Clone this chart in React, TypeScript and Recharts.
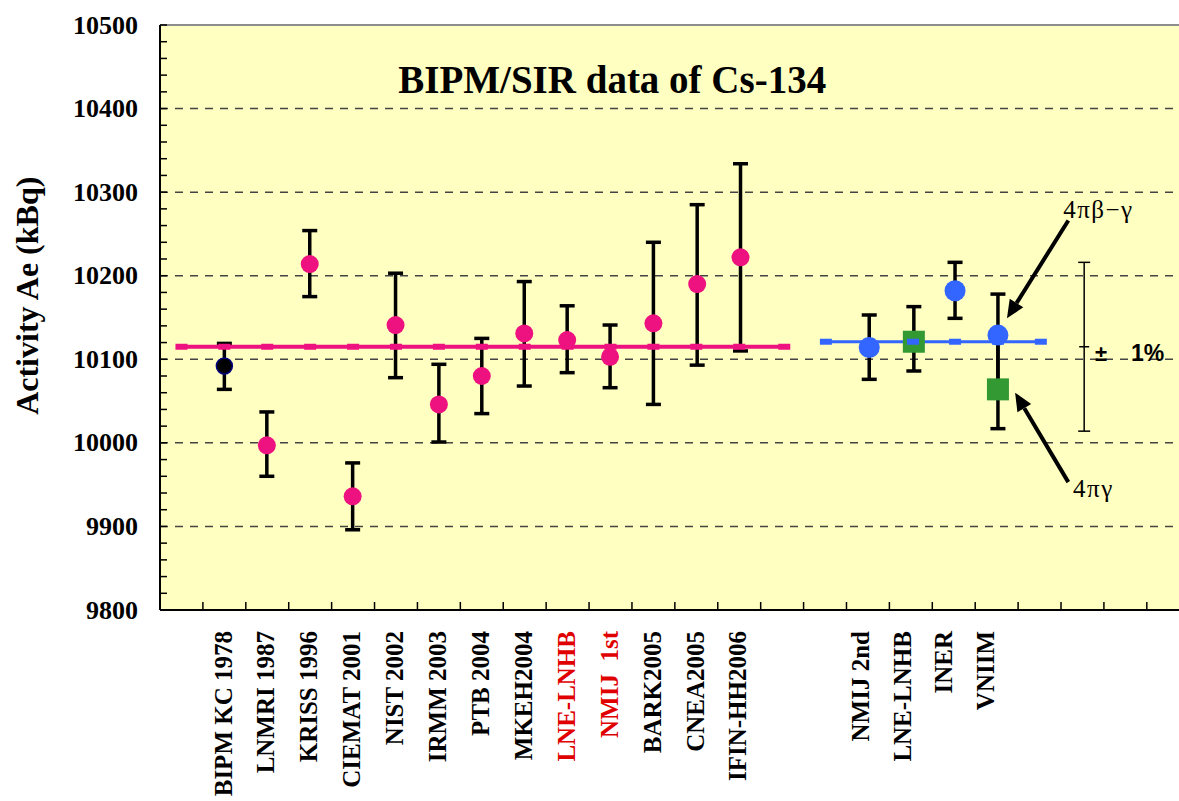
import React from 'react';
import { ComposedChart, Scatter, Line, XAxis, YAxis, CartesianGrid, ErrorBar, ReferenceLine, ReferenceDot } from 'recharts';

// category labels under the axis and where they sit (x units = one tick interval)
const xLabelNames = [
  'BIPM KC 1978', 'LNMRI 1987', 'KRISS 1996', 'CIEMAT 2001', 'NIST 2002', 'IRMM 2003', 'PTB 2004',
  'MKEH2004', 'LNE-LNHB', 'NMIJ  1st', 'BARK2005', 'CNEA2005', 'IFIN-HH2006',
  'NMIJ 2nd', 'LNE-LNHB', 'INER', 'VNIIM',
];
const xLabelPos = [1.47, 2.47, 3.47, 4.47, 5.47, 6.47, 7.47, 8.47, 9.47, 10.47, 11.47, 12.47, 13.47, 16.33, 17.3, 18.27, 19.25];
const redLabelIdx = [8, 9];
const xTickMarks = [0, 1, 2, 3, 4, 5, 6, 7, 8, 9, 10, 11, 12, 13, 14, 15, 16, 17, 18, 19, 20, 21, 22, 23];

const yGrid = [9900, 10000, 10100, 10200, 10300, 10400];

// BIPM reference (1978)
const refX = [1.5];
const refVal = [10092];
const refHi = [10119];
const refLo = [10064];

// earlier SIR submissions
const sirX = [2.49, 3.49, 4.49, 5.49, 6.5, 7.5, 8.49, 9.49, 10.49, 11.5, 12.52, 13.53];
const sirVal = [9997, 10214, 9936, 10141, 10046, 10080, 10131, 10123, 10103, 10143, 10190, 10222];
const sirHi = [10037, 10254, 9976, 10203, 10094, 10125, 10193, 10164, 10141, 10240, 10285, 10334];
const sirLo = [9960, 10175, 9896, 10078, 10001, 10035, 10068, 10084, 10066, 10046, 10093, 10110];

// new results, 4πβ-γ (circles)
const bgX = [16.53, 18.53, 19.53];
const bgVal = [10114, 10182, 10129];
const bgHi = [10153, 10216, 10178];
const bgLo = [10076, 10149, 10070];

// new results, 4πγ (squares)
const gX = [17.57, 19.53];
const gVal = [10121, 10064];
const gHi = [10163, 10125];
const gLo = [10086, 10017];

// mean lines
const meanOld = 10115;
const meanOldX = [0.5, 1.5, 2.5, 3.5, 4.5, 5.5, 6.5, 7.5, 8.5, 9.5, 10.5, 11.5, 12.5, 13.5, 14.55];
const meanNew = 10121;
const meanNewX = [15.52, 16.53, 17.55, 18.53, 19.53, 20.53];

const pctX = 21.54;
const pctMid = 10115;
const pctHalf = 101;

const PINK = '#EE1280';
const BLUE = '#3366FF';
const GREEN = '#339933';
const SERIF = "'Liberation Serif', 'Times New Roman', serif";
const SANS = "'Liberation Sans', Arial, sans-serif";

const pts = (xs: number[], vs: number[], hi: number[], lo: number[]) =>
  xs.map((x, i) => ({ x, y: vs[i], err: [vs[i] - lo[i], hi[i] - vs[i]] }));

const yTicks = Array.from({ length: 36 }, (_, i) => 9800 + i * 20);

const XTick = (props: any) => {
  const { x, y, payload } = props;
  const i = xLabelPos.indexOf(payload.value);
  if (i < 0) return <line x1={x} y1={y} x2={x} y2={y - 8} stroke="#000" strokeWidth={1.5} />;
  const ty = y + 21;
  return (
    <text x={x} y={ty} transform={`rotate(-90 ${x} ${ty})`} textAnchor="end" dominantBaseline="central"
      fontFamily={SERIF} fontWeight="bold" fontSize={25} fill={redLabelIdx.includes(i) ? '#E00000' : '#000'}
      style={{ whiteSpace: 'pre' }}>
      {xLabelNames[i]}
    </text>
  );
};

const YTick = (props: any) => {
  const { x, y, payload } = props;
  return (
    <g>
      <line x1={x} y1={y} x2={x + 7} y2={y} stroke="#000" strokeWidth={1.5} />
      {payload.value % 100 === 0 && (
        <text x={x - 22} y={y} textAnchor="end" dominantBaseline="central" fontFamily={SERIF} fontWeight="bold" fontSize={26} fill="#000">
          {payload.value}
        </text>
      )}
    </g>
  );
};

const Arrow = (props: any) => {
  const { x1, y1, x2, y2 } = props;
  const dx = x2 - x1, dy = y2 - y1;
  const len = Math.sqrt(dx * dx + dy * dy);
  const ux = dx / len, uy = dy / len;
  const hl = 18, hw = 8;
  const bx = x2 - ux * hl, by = y2 - uy * hl;
  return (
    <g>
      <line x1={x1} y1={y1} x2={bx} y2={by} stroke="#000" strokeWidth={4} />
      <polygon points={`${x2},${y2} ${bx - uy * hw},${by + ux * hw} ${bx + uy * hw},${by - ux * hw}`} fill="#000" />
    </g>
  );
};

const dash = (color: string) => (p: any) => (
  <rect key={`d${p.index}`} x={p.cx - 6} y={p.cy - 3} width={12} height={6} fill={color} />
);

export default function App() {
  return (
    <div style={{ position: 'absolute', left: 0, top: 0, width: 1179, height: 801, background: '#fff' }}>
      <ComposedChart width={1179} height={801} margin={{ top: 25, right: 0, bottom: 0, left: 0 }}>
        <CartesianGrid fill="#FFFFC1" stroke="#444" strokeDasharray="8 7" strokeWidth={1.5} vertical={false} horizontalValues={yGrid} />
        <XAxis dataKey="x" type="number" domain={[0, 23.75]} allowDataOverflow ticks={[...xTickMarks, ...xLabelPos]} interval={0}
          height={191} tickLine={false} tickSize={0} tickMargin={0} tick={<XTick />} axisLine={{ stroke: '#000', strokeWidth: 2 }} />
        <YAxis dataKey="y" type="number" domain={[9800, 10500]} allowDataOverflow ticks={yTicks} interval={0}
          width={160} tickLine={false} tickSize={0} tickMargin={0} tick={<YTick />} axisLine={{ stroke: '#000', strokeWidth: 2 }} />
        <ReferenceLine y={10500} stroke="#8c8c8c" strokeWidth={2} />

        <Scatter data={pts(sirX, sirVal, sirHi, sirLo)} isAnimationActive={false} shape={() => <g />}>
          <ErrorBar dataKey="err" direction="y" width={7.5} stroke="#000" strokeWidth={3.5} />
        </Scatter>
        <Scatter data={pts(refX, refVal, refHi, refLo)} isAnimationActive={false} shape={() => <g />}>
          <ErrorBar dataKey="err" direction="y" width={7.5} stroke="#000" strokeWidth={3.5} />
        </Scatter>
        <Scatter data={pts(bgX, bgVal, bgHi, bgLo)} isAnimationActive={false} shape={() => <g />}>
          <ErrorBar dataKey="err" direction="y" width={7.5} stroke="#000" strokeWidth={3.5} />
        </Scatter>
        <Scatter data={pts(gX, gVal, gHi, gLo)} isAnimationActive={false}
          shape={(p: any) => <rect x={p.cx - 11} y={p.cy - 11} width={22} height={22} fill={GREEN} />}>
          <ErrorBar dataKey="err" direction="y" width={7.5} stroke="#000" strokeWidth={3.5} />
        </Scatter>

        <Line data={meanOldX.map((x) => ({ x, y: meanOld }))} dataKey="y" stroke={PINK} strokeWidth={4} dot={dash(PINK)} isAnimationActive={false} />
        <Line data={meanNewX.map((x) => ({ x, y: meanNew }))} dataKey="y" stroke={BLUE} strokeWidth={3} dot={dash(BLUE)} isAnimationActive={false} />

        <Scatter data={pts(sirX, sirVal, sirHi, sirLo)} isAnimationActive={false}
          shape={(p: any) => <circle cx={p.cx} cy={p.cy} r={9} fill={PINK} />} />
        <Scatter data={pts(refX, refVal, refHi, refLo)} isAnimationActive={false}
          shape={(p: any) => <circle cx={p.cx} cy={p.cy} r={8} fill="#000" stroke="#000080" strokeWidth={1.5} />} />
        <Scatter data={pts(bgX, bgVal, bgHi, bgLo)} isAnimationActive={false}
          shape={(p: any) => <circle cx={p.cx} cy={p.cy} r={10.5} fill={BLUE} />} />

        <Scatter data={[{ x: pctX, y: pctMid, err: pctHalf }]} isAnimationActive={false}
          shape={(p: any) => <line x1={p.cx - 5} y1={p.cy} x2={p.cx + 5} y2={p.cy} stroke="#000" strokeWidth={1.5} />}>
          <ErrorBar dataKey="err" direction="y" width={6} stroke="#000" strokeWidth={1.5} />
        </Scatter>

        <ReferenceLine segment={[{ x: 21.17, y: 10266 }, { x: 19.74, y: 10149 }]} shape={<Arrow />} />
        <ReferenceLine segment={[{ x: 21.17, y: 9953 }, { x: 19.93, y: 10060 }]} shape={<Arrow />} />

        <ReferenceDot x={10.54} y={10435} r={0} shape={(p: any) => (
          <text x={p.cx} y={p.cy} textAnchor="middle" dominantBaseline="central" fontFamily={SERIF} fontWeight="bold" fontSize={39} fill="#000">
            BIPM/SIR data of Cs-134
          </text>
        )} />
        <ReferenceDot x={-3.1} y={10176} r={0} ifOverflow="visible" shape={(p: any) => (
          <text x={p.cx} y={p.cy} transform={`rotate(-90 ${p.cx} ${p.cy})`} textAnchor="middle" dominantBaseline="central"
            fontFamily={SERIF} fontWeight="bold" fontSize={32} fill="#000">
            Activity Ae (kBq)
          </text>
        )} />
        <ReferenceDot x={21.05} y={10269} r={0} shape={(p: any) => (
          <text x={p.cx} y={p.cy} fontFamily={SERIF} fontSize={25} letterSpacing={1.5} fill="#000">4πβ−γ</text>
        )} />
        <ReferenceDot x={21.28} y={9935} r={0} shape={(p: any) => (
          <text x={p.cx} y={p.cy} fontFamily={SERIF} fontSize={25} letterSpacing={1.5} fill="#000">4πγ</text>
        )} />
        <ReferenceDot x={21.84} y={pctMid} r={0} shape={(p: any) => (
          <g>
            <text x={p.cx - 2} y={p.cy + 14} fontFamily={SANS} fontWeight="bold" fontSize={22} fill="#000">±</text>
            <text x={p.cx + 34} y={p.cy + 14} fontFamily={SANS} fontWeight="bold" fontSize={23} fill="#000">1%</text>
          </g>
        )} />
      </ComposedChart>
    </div>
  );
}
